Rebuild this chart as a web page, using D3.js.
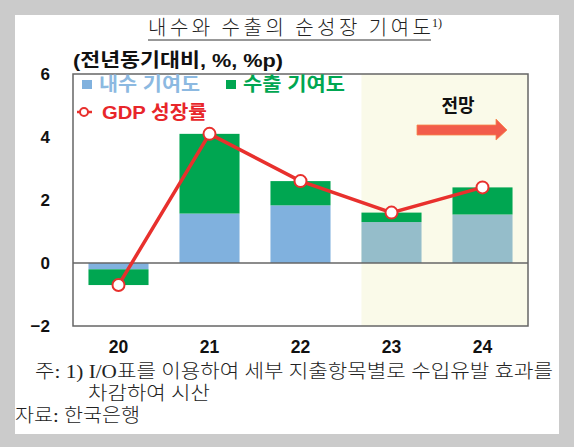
<!DOCTYPE html>
<html><head><meta charset="utf-8">
<script src="https://cdn.jsdelivr.net/npm/d3@7"></script>
<style>
html,body{margin:0;padding:0;background:#cbcbcb;}
svg{display:block;}
</style></head>
<body>
<svg id="chart" width="574" height="447"></svg>
<script>
// ---- data ----
const categories = ["20", "21", "22", "23", "24"];
const domesticContribution = [-0.2, 1.57, 1.83, 1.3, 1.54];
const exportContribution = [-0.5, 2.53, 0.77, 0.3, 0.86];
const gdpGrowth = [-0.7, 4.1, 2.6, 1.6, 2.4];
const yTicks = [-2, 0, 2, 4, 6];
const forecastStart = "23";
const titleText = "내수와 수출의 순성장 기여도";
const unitText = "(전년동기대비, %, %p)";
const legendLabels = ["내수 기여도", "수출 기여도", "GDP 성장률"];
const forecastLabel = "전망";
const noteLines = ["주: 1) I/O표를 이용하여 세부 지출항목별로 수입유발 효과를", "차감하여 시산", "자료: 한국은행"];

// ---- layout ----
const svg = d3.select("#chart");
const sans = "'Liberation Sans', 'Noto Sans CJK KR', sans-serif";
const kr = "'Noto Sans CJK KR', 'Liberation Sans', sans-serif";
const serif = "'Liberation Serif', 'Noto Sans CJK KR', serif";
const blue = "#80b1de", blueF = "#95bdca", green = "#00a651", red = "#e8302d";

svg.append("rect").attr("x", 15).attr("y", 15).attr("width", 544).attr("height", 419).attr("fill", "#fff");

const L = 73, R = 528, T = 74, B = 326;
const x = d3.scaleBand().domain(categories).range([L, R]).paddingInner(0.34).paddingOuter(0.17);
const y = d3.scaleLinear().domain([-2, 6]).range([B, T]);

// title
svg.append("text").attr("x", 148).attr("y", 35)
  .attr("font-family", kr).attr("font-weight", 300).attr("font-size", 20).attr("fill", "#222")
  .attr("textLength", 283).attr("lengthAdjust", "spacing").text(titleText);
svg.append("text").attr("x", 432).attr("y", 27).attr("font-family", serif).attr("font-size", 12).attr("fill", "#222").text("1)");
svg.append("line").attr("x1", 148).attr("x2", 431).attr("y1", 40).attr("y2", 40).attr("stroke", "#333").attr("stroke-width", 1);

// unit label
svg.append("text").attr("x", 73).attr("y", 67).attr("font-family", sans).attr("font-weight", "bold").attr("font-size", 19)
  .attr("fill", "#111").attr("textLength", 210).attr("lengthAdjust", "spacingAndGlyphs").text(unitText);

// forecast shading
svg.append("rect").attr("x", x(forecastStart)).attr("y", T).attr("width", R - x(forecastStart)).attr("height", B - T).attr("fill", "#fafae9");

// bars
const isF = c => categories.indexOf(c) >= categories.indexOf(forecastStart);
const g = svg.append("g");
categories.forEach((c, i) => {
  const d = domesticContribution[i], e = exportContribution[i];
  g.append("rect").attr("x", x(c)).attr("width", x.bandwidth())
    .attr("y", y(Math.max(0, d))).attr("height", Math.abs(y(d) - y(0)))
    .attr("fill", isF(c) ? blueF : blue);
  const s = d + e;
  g.append("rect").attr("x", x(c)).attr("width", x.bandwidth())
    .attr("y", y(Math.max(d, s))).attr("height", Math.abs(y(s) - y(d)))
    .attr("fill", green);
});

// frame & zero line
svg.append("rect").attr("x", L).attr("y", T).attr("width", R - L).attr("height", B - T)
  .attr("fill", "none").attr("stroke", "#666").attr("stroke-width", 1.5);
svg.append("line").attr("x1", L).attr("x2", R).attr("y1", y(0)).attr("y2", y(0)).attr("stroke", "#666").attr("stroke-width", 1.5);

// y axis labels
svg.append("g").selectAll("text").data(yTicks).join("text")
  .attr("x", 50).attr("y", d => y(d) + 6).attr("text-anchor", "end")
  .attr("font-family", sans).attr("font-weight", "bold").attr("font-size", 17).attr("fill", "#111")
  .text(d => d < 0 ? "\u2212" + Math.abs(d) : d);

// x axis labels
svg.append("g").selectAll("text").data(categories).join("text")
  .attr("x", d => x(d) + x.bandwidth() / 2).attr("y", 353).attr("text-anchor", "middle")
  .attr("font-family", sans).attr("font-weight", "bold").attr("font-size", 17.5).attr("fill", "#111")
  .text(d => d);

// GDP line
const line = d3.line().x((d, i) => x(categories[i]) + x.bandwidth() / 2).y(d => y(d));
svg.append("path").datum(gdpGrowth).attr("d", line).attr("fill", "none").attr("stroke", red).attr("stroke-width", 3.5);
svg.append("g").selectAll("circle").data(gdpGrowth).join("circle")
  .attr("cx", (d, i) => x(categories[i]) + x.bandwidth() / 2).attr("cy", d => y(d)).attr("r", 6)
  .attr("fill", "#fff").attr("stroke", red).attr("stroke-width", 2);

// legend
svg.append("rect").attr("x", 82).attr("y", 80).attr("width", 10).attr("height", 9).attr("fill", blue);
svg.append("text").attr("x", 99).attr("y", 91).attr("font-family", sans).attr("font-weight", "bold").attr("font-size", 19)
  .attr("fill", "#8cb9e1").attr("textLength", 101).attr("lengthAdjust", "spacingAndGlyphs").text(legendLabels[0]);
svg.append("rect").attr("x", 226).attr("y", 80).attr("width", 10).attr("height", 9).attr("fill", green);
svg.append("text").attr("x", 243).attr("y", 91).attr("font-family", sans).attr("font-weight", "bold").attr("font-size", 19)
  .attr("fill", "#00a651").attr("textLength", 102).attr("lengthAdjust", "spacingAndGlyphs").text(legendLabels[1]);
svg.append("line").attr("x1", 77).attr("x2", 92).attr("y1", 112).attr("y2", 112).attr("stroke", red).attr("stroke-width", 2.5);
svg.append("circle").attr("cx", 84).attr("cy", 112).attr("r", 4).attr("fill", "#fff").attr("stroke", red).attr("stroke-width", 2);
svg.append("text").attr("x", 102).attr("y", 119).attr("font-family", sans).attr("font-weight", "bold").attr("font-size", 19)
  .attr("fill", "#e8262a").attr("textLength", 105).attr("lengthAdjust", "spacingAndGlyphs").text(legendLabels[2]);

// forecast label and arrow
svg.append("text").attr("x", 458).attr("y", 112).attr("text-anchor", "middle").attr("font-family", kr).attr("font-weight", "bold")
  .attr("font-size", 18).attr("fill", "#111").text(forecastLabel);
svg.append("path").attr("d", "M417,125 L496,125 L496,119 L507,130 L496,140 L496,135 L417,135 Z")
  .attr("fill", "#f25c4b").attr("stroke", "#f7874a").attr("stroke-width", 0.8);

// notes
const noteX = [35, 88, 15], noteY = [378, 400, 422], noteW = [518, 122, 125];
noteLines.forEach((t, i) => {
  svg.append("text").attr("x", noteX[i]).attr("y", noteY[i]).attr("font-family", serif).attr("font-weight", 300)
    .attr("font-size", 19).attr("fill", "#222").attr("textLength", noteW[i]).attr("lengthAdjust", "spacingAndGlyphs").text(t);
});
</script>
</body></html>
